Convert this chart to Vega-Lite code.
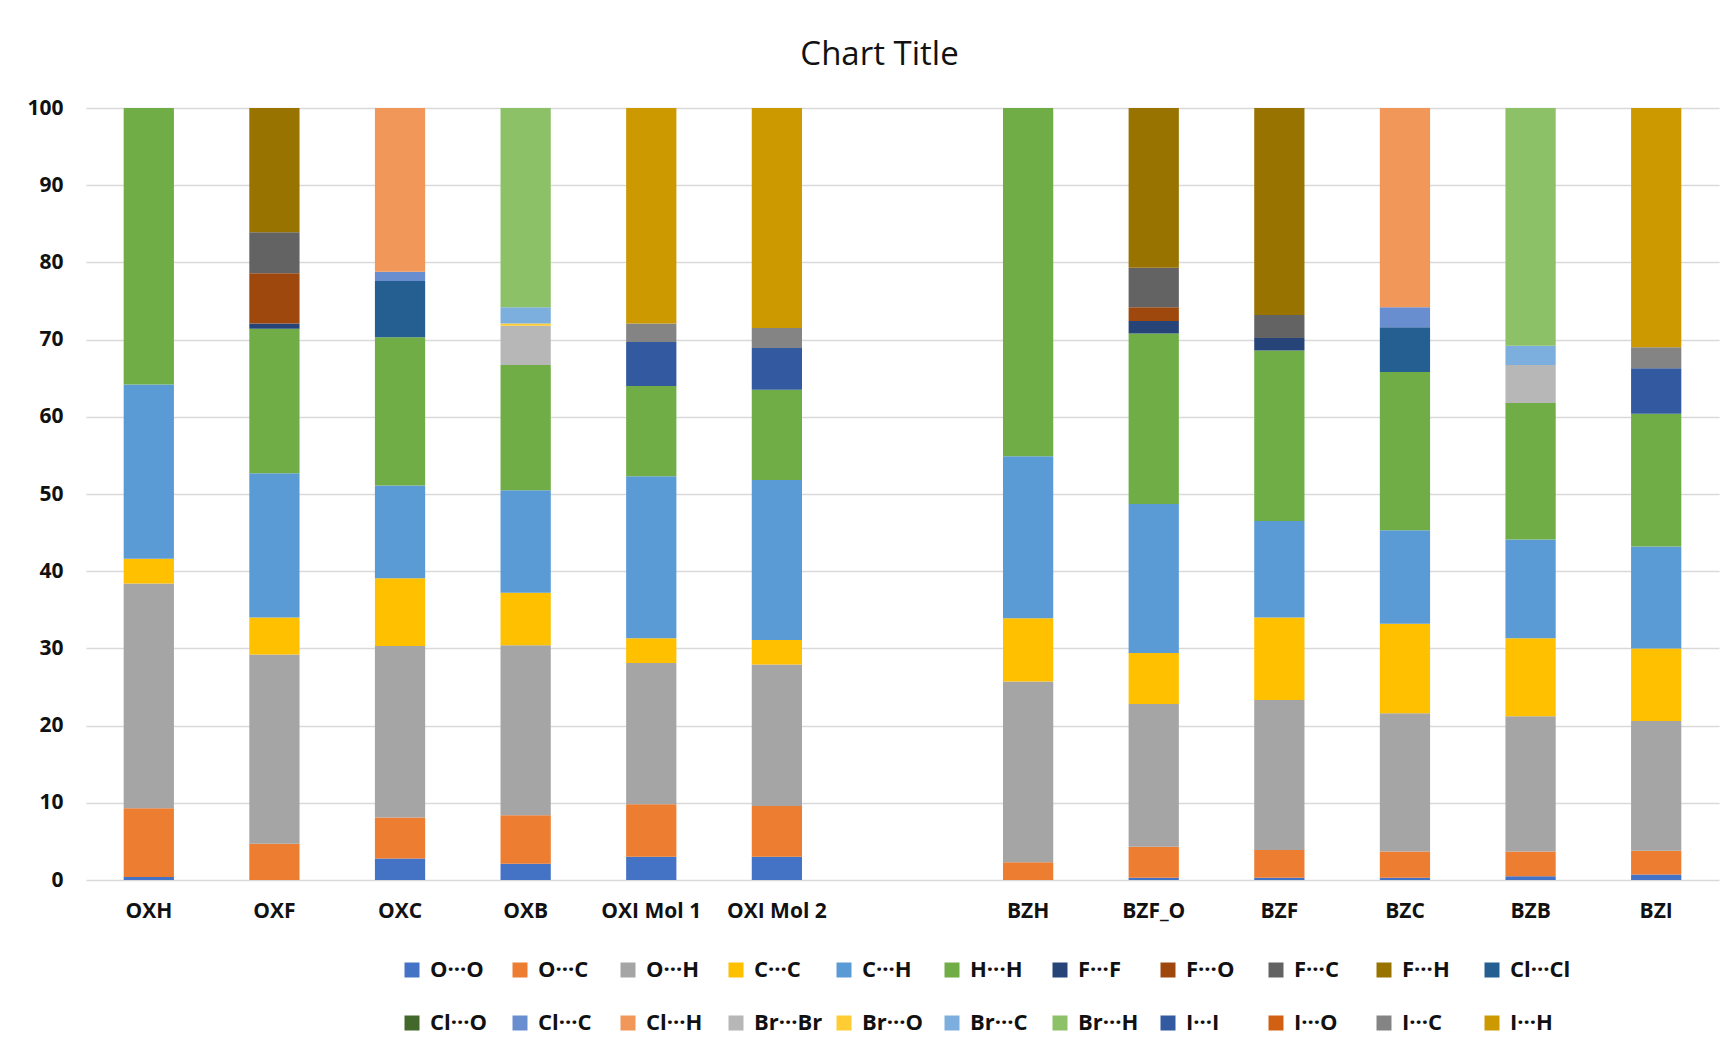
{
  "$schema": "https://vega.github.io/schema/vega-lite/v6.json",
  "autosize": "none",
  "width": 1633,
  "height": 772,
  "padding": {"left": 86, "top": 108, "right": 14, "bottom": 165},
  "background": "white",
  "config": {
    "font": "Open Sans",
    "view": {"stroke": null},
    "axis": {"labelFont": "Open Sans", "labelFontWeight": "bold", "labelFontSize": 21, "labelColor": "#111111", "ticks": false, "title": null, "gridColor": "#D9D9D9", "gridWidth": 1.3}
  },
  "title": {"text": "Chart Title", "font": "Open Sans", "fontSize": 33, "fontWeight": "normal", "color": "#111111", "anchor": "middle", "offset": 25, "dx": -23},
  "data": {
    "values": [
      {"c": "OXH", "s": "O···O", "k": 1, "v": 0.4},
      {"c": "OXH", "s": "O···C", "k": 2, "v": 8.9},
      {"c": "OXH", "s": "O···H", "k": 3, "v": 29.1},
      {"c": "OXH", "s": "C···C", "k": 4, "v": 3.2},
      {"c": "OXH", "s": "C···H", "k": 5, "v": 22.6},
      {"c": "OXH", "s": "H···H", "k": 6, "v": 35.8},

      {"c": "OXF", "s": "O···C", "k": 2, "v": 4.7},
      {"c": "OXF", "s": "O···H", "k": 3, "v": 24.5},
      {"c": "OXF", "s": "C···C", "k": 4, "v": 4.8},
      {"c": "OXF", "s": "C···H", "k": 5, "v": 18.7},
      {"c": "OXF", "s": "H···H", "k": 6, "v": 18.7},
      {"c": "OXF", "s": "F···F", "k": 7, "v": 0.7},
      {"c": "OXF", "s": "F···O", "k": 8, "v": 6.5},
      {"c": "OXF", "s": "F···C", "k": 9, "v": 5.3},
      {"c": "OXF", "s": "F···H", "k": 10, "v": 16.1},

      {"c": "OXC", "s": "O···O", "k": 1, "v": 2.8},
      {"c": "OXC", "s": "O···C", "k": 2, "v": 5.3},
      {"c": "OXC", "s": "O···H", "k": 3, "v": 22.2},
      {"c": "OXC", "s": "C···C", "k": 4, "v": 8.8},
      {"c": "OXC", "s": "C···H", "k": 5, "v": 12.0},
      {"c": "OXC", "s": "H···H", "k": 6, "v": 19.2},
      {"c": "OXC", "s": "Cl···Cl", "k": 11, "v": 7.3},
      {"c": "OXC", "s": "Cl···C", "k": 13, "v": 1.2},
      {"c": "OXC", "s": "Cl···H", "k": 14, "v": 21.2},

      {"c": "OXB", "s": "O···O", "k": 1, "v": 2.1},
      {"c": "OXB", "s": "O···C", "k": 2, "v": 6.3},
      {"c": "OXB", "s": "O···H", "k": 3, "v": 22.0},
      {"c": "OXB", "s": "C···C", "k": 4, "v": 6.8},
      {"c": "OXB", "s": "C···H", "k": 5, "v": 13.3},
      {"c": "OXB", "s": "H···H", "k": 6, "v": 16.2},
      {"c": "OXB", "s": "Br···Br", "k": 15, "v": 5.1},
      {"c": "OXB", "s": "Br···O", "k": 16, "v": 0.3},
      {"c": "OXB", "s": "Br···C", "k": 17, "v": 2.1},
      {"c": "OXB", "s": "Br···H", "k": 18, "v": 25.8},

      {"c": "OXI Mol 1", "s": "O···O", "k": 1, "v": 3.0},
      {"c": "OXI Mol 1", "s": "O···C", "k": 2, "v": 6.8},
      {"c": "OXI Mol 1", "s": "O···H", "k": 3, "v": 18.3},
      {"c": "OXI Mol 1", "s": "C···C", "k": 4, "v": 3.2},
      {"c": "OXI Mol 1", "s": "C···H", "k": 5, "v": 21.0},
      {"c": "OXI Mol 1", "s": "H···H", "k": 6, "v": 11.7},
      {"c": "OXI Mol 1", "s": "I···I", "k": 19, "v": 5.7},
      {"c": "OXI Mol 1", "s": "I···C", "k": 21, "v": 2.4},
      {"c": "OXI Mol 1", "s": "I···H", "k": 22, "v": 27.9},

      {"c": "OXI Mol 2", "s": "O···O", "k": 1, "v": 3.0},
      {"c": "OXI Mol 2", "s": "O···C", "k": 2, "v": 6.6},
      {"c": "OXI Mol 2", "s": "O···H", "k": 3, "v": 18.3},
      {"c": "OXI Mol 2", "s": "C···C", "k": 4, "v": 3.2},
      {"c": "OXI Mol 2", "s": "C···H", "k": 5, "v": 20.7},
      {"c": "OXI Mol 2", "s": "H···H", "k": 6, "v": 11.7},
      {"c": "OXI Mol 2", "s": "I···I", "k": 19, "v": 5.4},
      {"c": "OXI Mol 2", "s": "I···C", "k": 21, "v": 2.6},
      {"c": "OXI Mol 2", "s": "I···H", "k": 22, "v": 28.5},

      {"c": "BZH", "s": "O···C", "k": 2, "v": 2.3},
      {"c": "BZH", "s": "O···H", "k": 3, "v": 23.4},
      {"c": "BZH", "s": "C···C", "k": 4, "v": 8.2},
      {"c": "BZH", "s": "C···H", "k": 5, "v": 21.0},
      {"c": "BZH", "s": "H···H", "k": 6, "v": 45.1},

      {"c": "BZF_O", "s": "O···O", "k": 1, "v": 0.3},
      {"c": "BZF_O", "s": "O···C", "k": 2, "v": 4.0},
      {"c": "BZF_O", "s": "O···H", "k": 3, "v": 18.5},
      {"c": "BZF_O", "s": "C···C", "k": 4, "v": 6.6},
      {"c": "BZF_O", "s": "C···H", "k": 5, "v": 19.3},
      {"c": "BZF_O", "s": "H···H", "k": 6, "v": 22.1},
      {"c": "BZF_O", "s": "F···F", "k": 7, "v": 1.6},
      {"c": "BZF_O", "s": "F···O", "k": 8, "v": 1.8},
      {"c": "BZF_O", "s": "F···C", "k": 9, "v": 5.1},
      {"c": "BZF_O", "s": "F···H", "k": 10, "v": 20.7},

      {"c": "BZF", "s": "O···O", "k": 1, "v": 0.3},
      {"c": "BZF", "s": "O···C", "k": 2, "v": 3.6},
      {"c": "BZF", "s": "O···H", "k": 3, "v": 19.4},
      {"c": "BZF", "s": "C···C", "k": 4, "v": 10.7},
      {"c": "BZF", "s": "C···H", "k": 5, "v": 12.5},
      {"c": "BZF", "s": "H···H", "k": 6, "v": 22.1},
      {"c": "BZF", "s": "F···F", "k": 7, "v": 1.6},
      {"c": "BZF", "s": "F···C", "k": 9, "v": 3.0},
      {"c": "BZF", "s": "F···H", "k": 10, "v": 26.8},

      {"c": "BZC", "s": "O···O", "k": 1, "v": 0.3},
      {"c": "BZC", "s": "O···C", "k": 2, "v": 3.4},
      {"c": "BZC", "s": "O···H", "k": 3, "v": 17.9},
      {"c": "BZC", "s": "C···C", "k": 4, "v": 11.6},
      {"c": "BZC", "s": "C···H", "k": 5, "v": 12.1},
      {"c": "BZC", "s": "H···H", "k": 6, "v": 20.5},
      {"c": "BZC", "s": "Cl···Cl", "k": 11, "v": 5.8},
      {"c": "BZC", "s": "Cl···C", "k": 13, "v": 2.6},
      {"c": "BZC", "s": "Cl···H", "k": 14, "v": 25.8},

      {"c": "BZB", "s": "O···O", "k": 1, "v": 0.5},
      {"c": "BZB", "s": "O···C", "k": 2, "v": 3.2},
      {"c": "BZB", "s": "O···H", "k": 3, "v": 17.5},
      {"c": "BZB", "s": "C···C", "k": 4, "v": 10.1},
      {"c": "BZB", "s": "C···H", "k": 5, "v": 12.8},
      {"c": "BZB", "s": "H···H", "k": 6, "v": 17.7},
      {"c": "BZB", "s": "Br···Br", "k": 15, "v": 4.9},
      {"c": "BZB", "s": "Br···C", "k": 17, "v": 2.5},
      {"c": "BZB", "s": "Br···H", "k": 18, "v": 30.8},

      {"c": "BZI", "s": "O···O", "k": 1, "v": 0.7},
      {"c": "BZI", "s": "O···C", "k": 2, "v": 3.1},
      {"c": "BZI", "s": "O···H", "k": 3, "v": 16.8},
      {"c": "BZI", "s": "C···C", "k": 4, "v": 9.4},
      {"c": "BZI", "s": "C···H", "k": 5, "v": 13.2},
      {"c": "BZI", "s": "H···H", "k": 6, "v": 17.2},
      {"c": "BZI", "s": "I···I", "k": 19, "v": 5.9},
      {"c": "BZI", "s": "I···C", "k": 21, "v": 2.7},
      {"c": "BZI", "s": "I···H", "k": 22, "v": 31.0}
    ]
  },
  "mark": {"type": "bar"},
  "encoding": {
    "x": {
      "field": "c", "type": "nominal",
      "scale": {"domain": ["OXH", "OXF", "OXC", "OXB", "OXI Mol 1", "OXI Mol 2", " ", "BZH", "BZF_O", "BZF", "BZC", "BZB", "BZI"], "paddingInner": 0.6, "paddingOuter": 0.3},
      "axis": {"labelAngle": 0, "labelPadding": 20, "domain": false, "grid": false}
    },
    "y": {
      "field": "v", "type": "quantitative", "stack": "zero",
      "scale": {"domain": [0, 100], "nice": false},
      "axis": {"values": [0, 10, 20, 30, 40, 50, 60, 70, 80, 90, 100], "labelPadding": 23, "domain": false, "grid": true}
    },
    "order": {"field": "k", "type": "quantitative", "sort": "ascending"},
    "color": {
      "field": "s", "type": "nominal",
      "scale": {
        "domain": ["O···O", "O···C", "O···H", "C···C", "C···H", "H···H", "F···F", "F···O", "F···C", "F···H", "Cl···Cl", "Cl···O", "Cl···C", "Cl···H", "Br···Br", "Br···O", "Br···C", "Br···H", "I···I", "I···O", "I···C", "I···H"],
        "range": ["#4472C4", "#ED7D31", "#A5A5A5", "#FFC000", "#5B9BD5", "#70AD47", "#264478", "#9E480E", "#636363", "#997300", "#255E91", "#43682B", "#698ED0", "#F1975A", "#B7B7B7", "#FFCD33", "#7CAFDD", "#8CC168", "#335AA1", "#D26012", "#848484", "#CC9A00"]
      },
      "legend": {
        "title": null, "orient": "none", "legendX": 315, "legendY": 851, "direction": "horizontal", "columns": 11,
        "gridAlign": "all", "columnPadding": 10, "rowPadding": 31, "padding": 0,
        "symbolType": "square", "symbolSize": 225, "symbolStrokeWidth": 0, "labelOffset": 7,
        "labelFont": "Open Sans", "labelFontSize": 22, "labelFontWeight": "bold", "labelColor": "#111111", "labelLimit": 200
      }
    }
  }
}
